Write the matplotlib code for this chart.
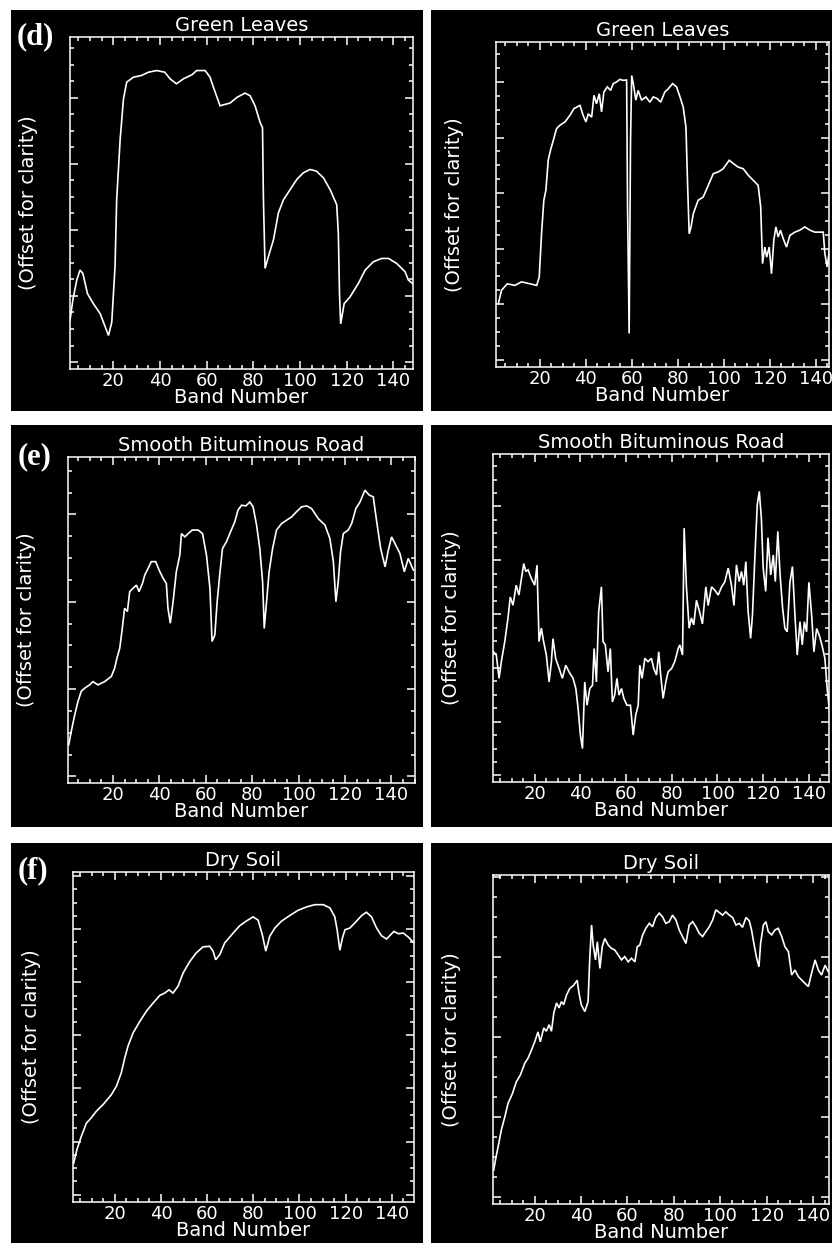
import matplotlib
matplotlib.use("Agg")
import matplotlib.pyplot as plt
from matplotlib.patches import Rectangle
from matplotlib.ticker import FixedLocator, MultipleLocator

# ---------------- text ----------------
titles = ["Green Leaves", "Green Leaves",
          "Smooth Bituminous Road", "Smooth Bituminous Road",
          "Dry Soil", "Dry Soil"]
row_labels = ["(d)", "(e)", "(f)"]
x_label = "Band Number"
y_label = "(Offset for clarity)"
x_major_ticks = [20, 40, 60, 80, 100, 120, 140]

# ---------------- data (band number, relative height in % of plot) ----------------
leaves_ref_band = [1.4, 2.6, 4.3, 5.7, 6.9, 8.9, 11.4, 14.3, 16, 17.9, 19.3, 20.7, 21.4, 22.9, 24.3,
                   25.7, 28.6, 32, 35, 38.6, 42, 44.3, 47, 50, 53.6, 55.7, 59.3, 61.4, 62.9, 65.7,
                   70, 72.9, 76.4, 78.6, 80.7, 82.9, 83.9, 84.3, 85, 86.4, 88.6, 90.7, 92.9, 95.7,
                   98.6, 101.4, 104.3, 107, 110, 112.9, 115.7, 116.4, 116.9, 117.4, 118.9, 121.4,
                   125, 127.9, 131.4, 135, 137.9, 141.4, 145, 146.4, 149]
leaves_ref_val = [14.6, 20.7, 26.8, 29.8, 28.8, 22.7, 19.7, 16.7, 13.6, 10.1, 14.1, 30.8, 51, 69.2, 81.3,
                  86.4, 87.9, 88.4, 89.4, 89.9, 89.4, 87.4, 85.9, 87.4, 88.6, 89.9, 89.9, 87.9, 84.8, 79.3,
                  80.1, 81.8, 83.1, 82.3, 79.3, 74.2, 72.7, 51, 30.3, 33.8, 38.9, 47, 51, 54,
                  57.1, 59.1, 60.1, 59.6, 57.6, 54, 49.5, 40.9, 22.7, 13.6, 19.7, 21.7,
                  25.8, 29.8, 32.3, 33.3, 33.3, 31.8, 29.3, 26.8, 25.3]

leaves_img_band = [1.9, 3.3, 5.8, 9.1, 12, 15.7, 18.6, 19.7, 20.7, 21.7, 22.6, 23.6, 24.6, 25.8, 27.2,
                   28.7, 30.9, 33, 34.8, 37.4, 38.8, 40, 41, 42.5, 43.5, 44.6, 45.8, 46.8, 47.8, 49.3,
                   50.7, 51.9, 53.3, 54.8, 56.2, 57.7, 58.1, 58.8, 59.4, 59.9, 60.6, 61.7, 62.7, 64.2,
                   66.1, 67.8, 69.3, 71, 72.5, 74.3, 75.8, 77.7, 79.4, 80.9, 82.3, 83.5, 84.2, 84.9,
                   85.7, 86.7, 88.8, 91, 93.2, 95.4, 97.5, 99.7, 102.3, 104.1, 106.2, 108.4, 110.6,
                   112.8, 114.9, 116, 116.8, 117.8, 118.6, 119.7, 120.7, 121.7, 122.6, 123.6, 124.6,
                   125.8, 127.2, 128.7, 130.9, 133, 135.2, 137.4, 139.5, 143.2, 143.9, 144.9, 146.1]
leaves_img_val = [19.5, 23.6, 25.6, 25.1, 26.2, 25.6, 25.1, 27.7, 41, 51.3, 54.4, 63.6, 66.7, 69.7, 73.3,
                  74.4, 75.4, 77.4, 79.5, 80.5, 77.4, 75.4, 77.9, 76.9, 83.6, 81, 84.1, 78.5, 84.6, 86.2,
                  85.1, 87.2, 87.7, 88.5, 88.2, 88.3, 49.2, 10.3, 69.7, 89.7, 87.2, 82.1, 85.1, 82.1,
                  83.1, 81.5, 83.1, 82.6, 81.5, 84.6, 85.6, 87.2, 86.2, 83.1, 80, 73.8, 56.4, 41,
                  43.1, 47.2, 51.3, 52.3, 55.9, 59.5, 60, 61, 63.6, 62.6, 61.5, 61, 59,
                  57.4, 55.9, 49.2, 31.8, 36.9, 33.8, 36.9, 28.7, 39, 43.1, 40, 42.1,
                  39.5, 36.9, 40.5, 41.5, 42.1, 43.1, 42.1, 41.5, 41.5, 34.9, 30.8, 37]

road_ref_band = [0.9, 2, 3.5, 4.9, 6.3, 7.8, 9.9, 11.4, 13.5, 16.4, 19.3, 20.7, 21.7, 22.9, 24, 25,
                 26.2, 27.2, 28.6, 30.1, 31.2, 32.7, 33.7, 35.1, 36.5, 38.4, 39.9, 41.6, 43, 43.7,
                 44.7, 45.9, 47.3, 48.8, 49.5, 51, 52.4, 54.2, 56.7, 58.6, 60.3, 61.8, 62.7, 63.9,
                 64.9, 66, 67.2, 68.9, 71, 72.5, 73.9, 75.4, 77.3, 79, 80.4, 81.9, 83.3, 84.5, 85.2,
                 86.2, 87.3, 88.8, 90.5, 92.7, 94.8, 97, 99.1, 101.3, 103.5, 105.6, 108.5, 111.4,
                 113.5, 115, 116.1, 117.1, 118.1, 119.3, 121.4, 122.9, 124.7, 126.5, 128.6, 130.5,
                 132.2, 133.7, 135.4, 137.3, 138.7, 140.1, 142.3, 143.7, 145.6, 147.3, 149.5]
road_ref_val = [11.7, 15.8, 20.9, 25, 28.1, 29.1, 30.1, 31.1, 30.1, 31.1, 32.7, 35.2, 38.3, 41.3, 47.4, 53.6,
                52.6, 58.7, 59.7, 60.7, 58.7, 61.2, 63.8, 65.8, 67.9, 67.9, 65.3, 62.8, 61.2, 53.6,
                49, 55.6, 64.8, 69.9, 76.5, 75.5, 76.5, 77.6, 77.6, 76.5, 69.9, 59.7, 43.4, 45.4,
                55.6, 63.8, 71.9, 74, 77.6, 80.1, 83.7, 85.2, 85, 86.2, 84.7, 79.1, 71.9, 61.7, 47.4,
                55.6, 64.8, 71.9, 77.6, 79.6, 80.6, 81.6, 83.2, 84.7, 85, 84.2, 81.1, 79.1,
                75, 67.9, 55.6, 61.7, 70.9, 76.5, 77.6, 79.6, 84.2, 86.2, 89.8, 88.3,
                87.8, 80.1, 71.9, 66.3, 71.4, 75.5, 72.4, 70.4, 64.8, 68.9, 65.3]

road_img_band = [2, 3.2, 4.4, 5.4, 6.9, 8.3, 9.3, 10.5, 11.9, 13.1, 14.2, 15.2, 16.1, 17.1, 18.5, 20,
                 21, 21.9, 22.9, 23.9, 25.1, 26.3, 27.3, 28, 29.2, 30.7, 32.1, 33.6, 35, 36.8, 38,
                 39, 40, 40.9, 41.9, 42.9, 44.1, 45.3, 46, 47, 48, 49.2, 49.9, 50.9, 52.1, 53.1, 54,
                 55, 56, 56.9, 58, 59, 60.4, 61.9, 63.1, 64.2, 65.3, 66, 67, 68.2, 69.6, 71.1, 72.1,
                 73.3, 74.3, 75, 76.2, 77.4, 78.4, 79.9, 81.3, 82.8, 83.5, 84.7, 85.4, 86.4, 87.6,
                 88.6, 89.6, 90.8, 92, 93.4, 94.9, 95.9, 97.4, 98.8, 100.3, 101.8, 103.2, 104.7,
                 106.1, 107.2, 108.3, 109.5, 110.5, 111.5, 112.4, 113.4, 114.5, 115.3, 116.4, 117.4,
                 118.3, 119.2, 120, 121.1, 122.1, 123.3, 124.4, 125.3, 126.4, 127.4, 128.5, 129.5,
                 130.5, 131.7, 132.8, 133.9, 134.9, 136.1, 137.1, 138, 139, 140, 141.2, 142.2, 143.4,
                 144.5, 145.7, 147, 148, 148.9]
road_img_val = [39.7, 38.7, 31.6, 36.7, 42.8, 49.9, 56.4, 53.9, 60, 57, 62.1, 66.6, 64.2, 64.7, 62.1, 60,
                66.1, 42.8, 46.9, 42.8, 38.7, 30.5, 36.6, 43.7, 37.6, 34.6, 31.6, 35.6, 33.6, 31.6, 28.5,
                22.4, 14.3, 10.2, 30.5, 23.4, 28.5, 29.5, 40.7, 30.5, 51.9, 59.5, 42.8, 41.8, 33.6, 40.7, 24.4,
                26.5, 31.6, 26.5, 28.5, 25.5, 23.4, 23.4, 14.3, 20.4, 23.4, 35.6, 31.6, 37.7, 36.7, 37.7, 34.6,
                32.6, 39.7, 33.6, 25.5, 30.5, 33.6, 34.6, 36.7, 40.7, 41.8, 38.7, 77.4, 59.5, 46.9,
                50, 47.9, 55.4, 52.3, 48.2, 59.5, 53.8, 59.5, 58.5, 57, 59.5, 61, 65.2,
                60, 53.8, 66.2, 61.1, 64.2, 60, 67.2, 52, 43.8, 50.9, 69.2, 84.5,
                88.6, 80.4, 65.2, 58.1, 74.5, 63.1, 69.2, 61.1, 76.4, 63.1, 53, 46.8,
                45.8, 60.9, 65.7, 50.9, 38.7, 48.9, 41.8, 48.9, 45.8, 60.9, 50.9, 39.7, 46.8,
                44.8, 41.8, 37.7, 28.5, 22.4]

soil_ref_band = [2.2, 3.6, 5.5, 7.7, 9.8, 12, 14.9, 18.5, 20.7, 22.8, 24.3, 25.7, 27.9, 30.8, 33.7,
                 36.6, 39.5, 41.6, 43.5, 45.2, 47.4, 49.6, 52.5, 55.3, 58.2, 61.1, 62.6, 63.7, 65.5,
                 67.6, 69.8, 71.9, 74.1, 76.9, 79.9, 82.1, 83.9, 85.4, 87.1, 89.3, 92.2, 95.8, 99.4,
                 103, 106.6, 110.3, 113.2, 115.3, 116.3, 117.5, 118.6, 119.7, 121.8, 124.7, 126.9,
                 129, 131.2, 133.4, 135.5, 137.7, 139.5, 140.9, 142.8, 145, 147.1, 149.6]
soil_ref_val = [11.8, 15.9, 19.9, 23.9, 25.5, 27.5, 29.5, 32.5, 35.1, 39.1, 43.6, 47.2, 51.2, 54.7, 57.8,
                60.3, 62.6, 63.3, 64.3, 63.3, 65.4, 69.4, 72.9, 75.5, 77.3, 77.5, 76, 73.4, 75,
                78.5, 80.3, 82, 83.7, 85.1, 86.4, 85.4, 81, 76, 80.5, 83, 85.1, 86.8, 88.4,
                89.4, 90.1, 90.1, 89.1, 86.4, 82.5, 76.3, 80, 82.5, 83, 85.1, 86.8,
                87.8, 86.4, 83, 80.7, 79.7, 81, 82, 81.3, 81.5, 80.3, 78.5]

soil_img_band = [2.3, 3.2, 4.2, 5.6, 7.1, 8.5, 10.4, 12.1, 13.8, 15.7, 17.1, 18.6, 20, 21.4, 22.4, 23.9,
                 25, 26.2, 27.2, 28.2, 29.4, 30.5, 31.5, 32.5, 33.7, 35.1, 36.8, 38.3, 39.1, 40.1, 41.6,
                 43, 43.7, 44.5, 45.2, 46.2, 47, 48.1, 49.1, 50.2, 51.7, 53.1, 54.5, 56, 57.4, 58.8,
                 60.3, 61.7, 63.2, 64.2, 65.3, 66.5, 67.9, 69.4, 70.8, 72.2, 73.7, 75.1, 76.5, 78,
                 79.4, 80.9, 82.3, 83.7, 85.2, 86.6, 88.1, 89.5, 90.9, 92.4, 93.8, 95.3, 96.7, 98.1,
                 99.6, 101, 102.4, 103.9, 105.3, 106.8, 108.2, 109.6, 111.1, 112.5, 113.5, 114.5,
                 115.7, 116.7, 117.4, 118.6, 119.7, 120.7, 122.2, 123.6, 125, 126.5, 127.9, 129.4,
                 130.8, 132.2, 133.7, 135.1, 136.5, 138, 139.4, 140.9, 142.3, 143.7, 145.2, 146.6, 148]
soil_img_val = [10.3, 13.9, 17.4, 22.5, 26.5, 30.6, 33.6, 37.2, 39.2, 42.8, 44.3, 46.8, 49.3, 52.3, 49.3, 53.5,
                52.5, 54.5, 52.5, 58, 61.1, 59.6, 61.5, 60.6, 63.5, 65.5, 66.5, 68, 64, 60.5, 58.5,
                61.5, 74.2, 84.8, 78.7, 74.2, 79.7, 71.6, 78.2, 80.7, 78.7, 77.7, 77.2, 75.7, 74.2, 75.2,
                73.6, 74.7, 73.6, 78.2, 78.7, 81.7, 83.8, 85.3, 84.3, 87.1, 88.4, 87.3, 85.3, 85.8,
                87.8, 86.3, 83.3, 81.3, 79.2, 84.8, 85.8, 84.3, 82.3, 81.3, 82.8, 84.3, 86.3, 89.4,
                88.6, 87.8, 88.8, 87.8, 87.1, 84.8, 85.3, 84.1, 87.1, 86.1, 83.3, 79.2,
                74.7, 72.1, 79.2, 84.8, 85.8, 82.8, 81.8, 83.3, 83.8, 81.3, 78.2, 76.7,
                69.6, 71.1, 69.1, 68.1, 67.1, 66.1, 70.2, 74.2, 71.1, 69.6, 72.6, 70.6, 70.6]

panel_bands = [leaves_ref_band, leaves_img_band, road_ref_band, road_img_band, soil_ref_band, soil_img_band]
panel_vals = [leaves_ref_val, leaves_img_val, road_ref_val, road_img_val, soil_ref_val, soil_img_val]

# ---------------- layout (pixels) ----------------
W, H = 832, 1243
# black panel backgrounds: (left, top, right, bottom)
bg_boxes = [(11, 10, 423, 411), (431, 10, 832, 411),
            (11, 425, 423, 827), (431, 425, 832, 827),
            (11, 843, 423, 1243), (431, 843, 832, 1243)]
# axes boxes: (left, top, right, bottom)
ax_boxes = [(70, 37, 413, 369), (496, 42, 829, 367),
            (68, 457, 415, 783), (493, 454, 829, 782),
            (73, 872, 414, 1202), (493, 875, 829, 1204)]
x_limits = [(1.4, 148.4), (0.9, 145.7), (0.6, 150.2), (1.75, 148.8), (1.9, 149.6), (2.0, 146.9)]
# y tick grid (first major position and spacing, in % of plot height)
y_tick_base = [2.1, 2.2, 2.0, 2.0, 2.2, 2.2]
y_tick_step = [19.9, 17.1, 26.8, 16.4, 16.1, 24.3]
label_pos = [(17, 44), (18, 464), (18, 878)]

fig = plt.figure(figsize=(W / 100, H / 100), dpi=100)
fig.patch.set_facecolor("white")

for (l, t, r, b) in bg_boxes:
    fig.patches.append(Rectangle((l / W, 1 - b / H), (r - l) / W, (b - t) / H,
                                 transform=fig.transFigure, facecolor="black",
                                 edgecolor="none", zorder=-10))

font = ["DejaVu Sans"]
for i in range(6):
    l, t, r, b = ax_boxes[i]
    ax = fig.add_axes([l / W, 1 - b / H, (r - l) / W, (b - t) / H])
    ax.set_zorder(1)
    ax.set_facecolor("black")
    ax.plot(panel_bands[i], panel_vals[i], color="white", lw=1.2, solid_joinstyle="miter")
    ax.set_xlim(*x_limits[i])
    ax.set_ylim(0, 100)
    ax.xaxis.set_major_locator(FixedLocator(x_major_ticks))
    ax.xaxis.set_minor_locator(MultipleLocator(5))
    base, step = y_tick_base[i], y_tick_step[i]
    majors = [base + k * step for k in range(20) if base + k * step < 99.5]
    minors = [base + k * step / 4 for k in range(80) if base + k * step / 4 < 99.5]
    ax.yaxis.set_major_locator(FixedLocator(majors))
    ax.yaxis.set_minor_locator(FixedLocator(minors))
    ax.tick_params(which="both", direction="in", top=True, right=True, color="white",
                   width=1.1, labelcolor="white", labelsize=13, pad=2)
    ax.tick_params(which="major", length=5.5)
    ax.tick_params(which="minor", length=3)
    ax.tick_params(axis="y", labelleft=False)
    for lab in ax.get_xticklabels():
        lab.set_family(font)
    for sp in ax.spines.values():
        sp.set_color("white")
        sp.set_linewidth(1.1)
    ax.set_title(titles[i], color="white", fontsize=14, pad=4.5, family=font)
    ax.set_xlabel(x_label, color="white", fontsize=14, labelpad=-1, family=font)
    ax.set_ylabel(y_label, color="white", fontsize=14, family=font)
    ax.yaxis.set_label_coords(-32 / (r - l), 0.5)

for k, txt in enumerate(row_labels):
    x, y = label_pos[k]
    fig.text(x / W, 1 - y / H, txt, color="white", fontsize=22, fontweight="bold",
             family=["Liberation Serif", "DejaVu Serif"], ha="left", va="baseline", zorder=5)

fig.savefig("out.png", dpi=100, facecolor="white")
